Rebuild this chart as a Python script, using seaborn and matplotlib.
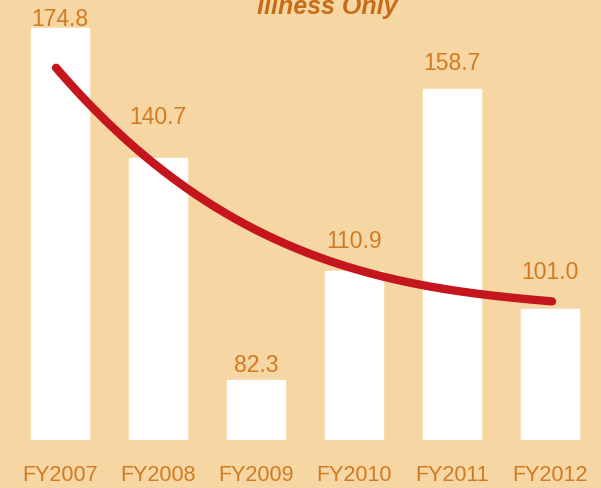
import numpy as np
import pandas as pd
import matplotlib
matplotlib.use("Agg")
import matplotlib.pyplot as plt
import seaborn as sns
from matplotlib import font_manager

# Fiscal-year totals (illness only)
years = ["FY2007", "FY2008", "FY2009", "FY2010", "FY2011", "FY2012"]
values = [174.8, 140.7, 82.3, 110.9, 158.7, 101.0]
# Smoothed downward trend read at each fiscal year
trend = [163.2, 138.3, 121.8, 111.5, 105.9, 103.0]
title = "Illness Only"

# Vertical gap (in points) between each bar top and its value label baseline
label_gap = [1.5, 24, 6, 17, 14, 21.5]

BG = "#F6D6A2"
LABEL = "#D27A22"
TITLE = "#C86C17"
RED = "#C4161C"

sns.set_theme(style="white")
installed = {f.name for f in font_manager.fontManager.ttflist}
families = [f for f in ["Liberation Sans Narrow", "Liberation Sans", "DejaVu Sans"] if f in installed]
plt.rcParams["font.family"] = families

df = pd.DataFrame({"year": years, "value": values})

fig = plt.figure(figsize=(6.01, 4.88), dpi=100, facecolor=BG)
ax = fig.add_axes([0, 48 / 488, 1, 440 / 488])
ax.set_facecolor(BG)

sns.barplot(data=df, x="year", y="value", color="white", saturation=1,
            width=0.592, ax=ax)

# trend line, fitted smoothly through the yearly trend readings
xi = np.arange(len(trend))
coef = np.polyfit(xi, trend, 3)
xs = np.linspace(xi[0] - 0.04, xi[-1] + 0.02, 200)
ax.plot(xs, np.polyval(coef, xs), color=RED, lw=6, solid_capstyle="round",
        zorder=5)

for i, (v, g) in enumerate(zip(values, label_gap)):
    ax.annotate(f"{v:.1f}", (i, v), xytext=(0, g), textcoords="offset points",
                ha="center", va="baseline", fontsize=16.5, color=LABEL)

ax.set_xlim(-0.612, 5.520)
ax.set_ylim(66.5, 182.2)
ax.set_xlabel("")
ax.set_ylabel("")
ax.set_yticks([])
ax.tick_params(axis="x", length=0, pad=29.5, labelsize=15.5, labelcolor=LABEL)
for lab in ax.get_xticklabels():
    lab.set_verticalalignment("baseline")
for s in ax.spines.values():
    s.set_visible(False)

fig.text(327 / 601, 1 - 14 / 488, title, ha="center", va="baseline",
         fontsize=18, fontweight="bold", fontstyle="italic", color=TITLE,
         family=["Liberation Sans", "DejaVu Sans"])

fig.savefig("out.png", dpi=100, facecolor=BG)
